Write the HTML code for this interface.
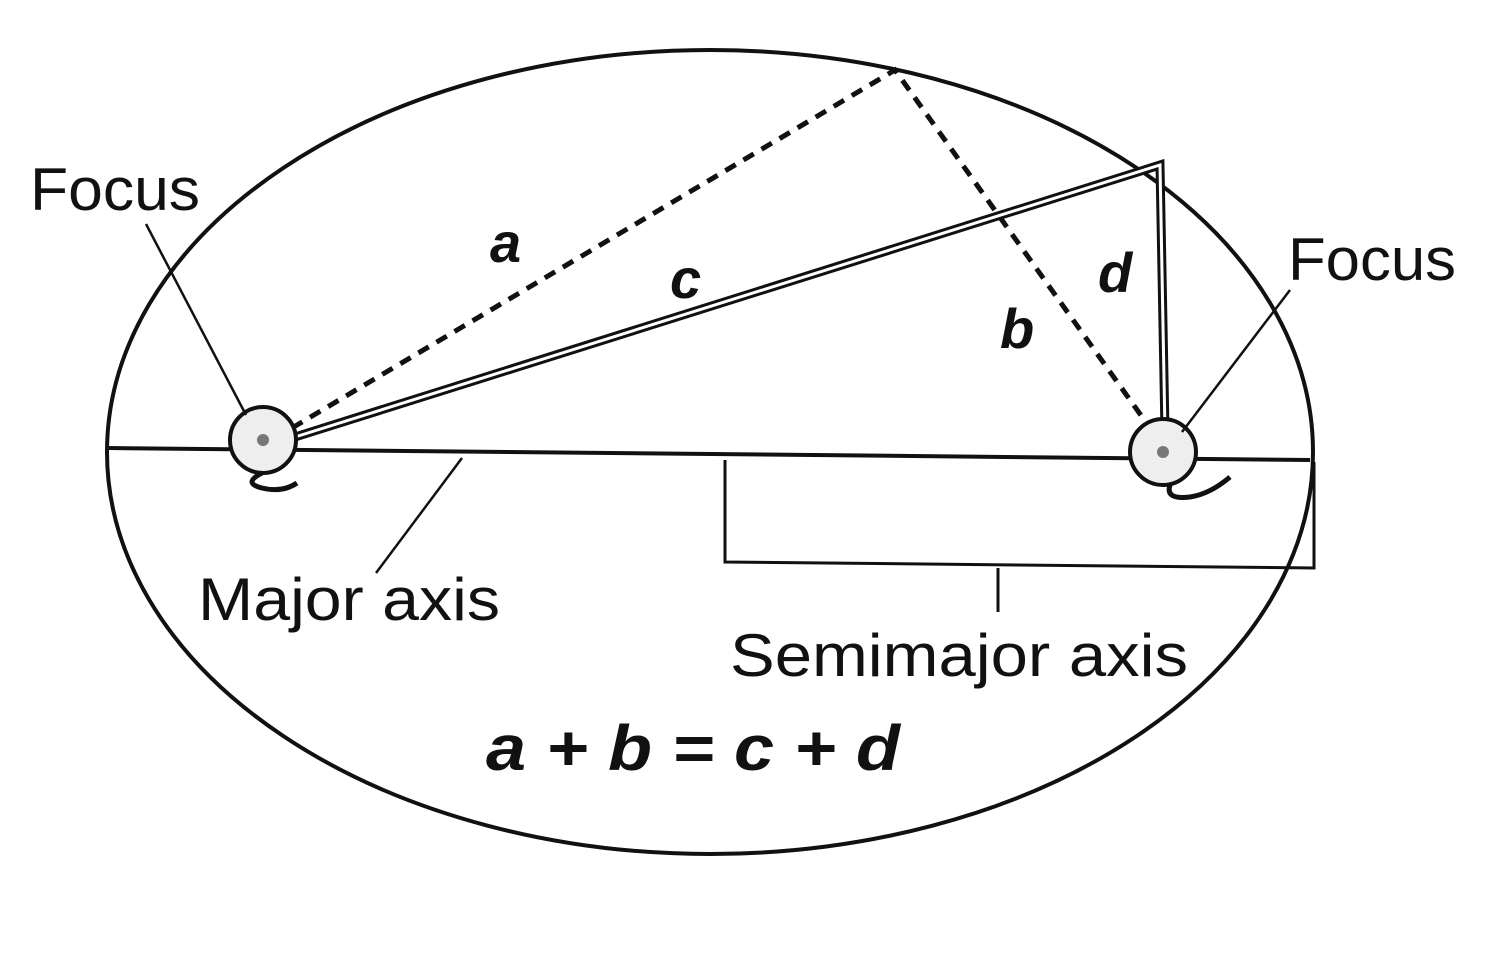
<!DOCTYPE html>
<html><head><meta charset="utf-8"><style>
html,body{margin:0;padding:0;background:#fff;}
svg{display:block}
</style></head><body>
<svg width="1489" height="962" viewBox="0 0 1489 962" xmlns="http://www.w3.org/2000/svg">
<rect width="1489" height="962" fill="#fff"/>
<ellipse cx="710" cy="452" rx="603" ry="402" fill="none" stroke="#111" stroke-width="4"/>
<line x1="107" y1="448" x2="1310" y2="460" stroke="#111" stroke-width="4"/>
<polyline points="292,428 895,70 1150,428" fill="none" stroke="#111" stroke-width="5" stroke-dasharray="12,9"/>
<polyline points="295,437 1160,165 1165,432" fill="none" stroke="#111" stroke-width="9"/>
<polyline points="295,437 1160,165 1165,432" fill="none" stroke="#fff" stroke-width="3"/>
<polyline points="725,460 725,562 1314,568 1314,462" fill="none" stroke="#111" stroke-width="3"/>
<line x1="998" y1="568" x2="998" y2="612" stroke="#111" stroke-width="3"/>
<circle cx="263" cy="440" r="33" fill="#eee" stroke="#111" stroke-width="4"/>
<circle cx="263" cy="440" r="6" fill="#777"/>
<path d="M262 473 q-20 10 0 15 q20 5 35 -5" fill="none" stroke="#111" stroke-width="5"/>
<circle cx="1163" cy="452" r="33" fill="#eee" stroke="#111" stroke-width="4"/>
<circle cx="1163" cy="452" r="6" fill="#777"/>
<path d="M1170 485 q-5 15 20 12 q20 -3 40 -20" fill="none" stroke="#111" stroke-width="5"/>
<line x1="146" y1="224" x2="246" y2="415" stroke="#111" stroke-width="2.5"/>
<line x1="1290" y1="290" x2="1182" y2="432" stroke="#111" stroke-width="2.5"/>
<line x1="376" y1="573" x2="462" y2="458" stroke="#111" stroke-width="2.5"/>
<g font-family="'Liberation Sans', sans-serif" fill="#111">
<text x="30" y="210" font-size="60" textLength="170" lengthAdjust="spacingAndGlyphs">Focus</text>
<text x="1288" y="280" font-size="60" textLength="168" lengthAdjust="spacingAndGlyphs">Focus</text>
<text x="198" y="620" font-size="60" textLength="302" lengthAdjust="spacingAndGlyphs">Major axis</text>
<text x="730" y="676" font-size="60" textLength="458" lengthAdjust="spacingAndGlyphs">Semimajor axis</text>
<g font-weight="bold" font-style="italic">
<text x="490" y="262" font-size="56">a</text>
<text x="670" y="298" font-size="56">c</text>
<text x="1098" y="292" font-size="56">d</text>
<text x="1000" y="348" font-size="56">b</text>
<text x="486" y="770" font-size="64" textLength="414" lengthAdjust="spacingAndGlyphs">a + b = c + d</text>
</g>
</g>
</svg>
</body></html>
